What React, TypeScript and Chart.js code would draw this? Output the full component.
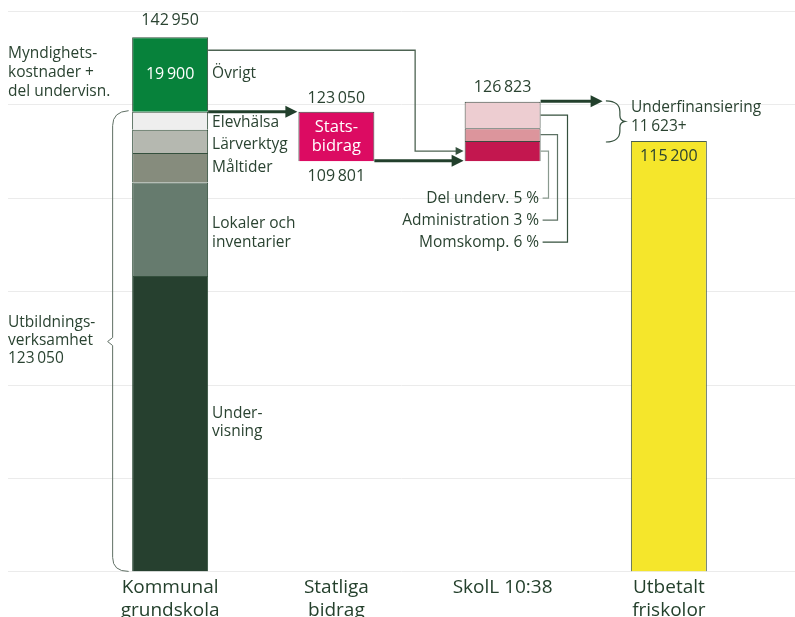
import React, { useEffect, useRef } from 'react';
import { Chart, registerables } from 'chart.js';

Chart.register(...registerables);

// ---------- data ----------
const categories: (string | string[])[] = [
  ['Kommunal', 'grundskola'],
  ['Statliga', 'bidrag'],
  'SkolL 10:38',
  ['Utbetalt', 'friskolor'],
];

const kommunalSegments = ['Undervisning', 'Lokaler och inventarier', 'Måltider', 'Lärverktyg', 'Elevhälsa', 'Övrigt'];
const kommunalValues = [79100, 25000, 7900, 6200, 4850, 19900];
const kommunalColors = ['#26402f', '#667b6e', '#868c7d', '#b5b8b0', '#eeeeee', '#07823b'];

const statsbidragRange = [109801, 123050];

const skolLSegments = ['Del underv.', 'Administration', 'Momskomp.'];
const skolLPercents = ['5 %', '3 %', '6 %'];
const skolLValues = [5400, 3400, 7100];
const skolLColors = ['#c3174f', '#dc959c', '#edcdd1'];
const skolLTotal = 126823;

const utbetaltValue = 115200;

const yTicks = [0, 25000, 50000, 75000, 100000, 125000, 150000];

// ---------- helpers ----------
const FONT = '"Open Sans", Lato, sans-serif';
const TEXT = '#2a4331';
const BODY = 15.5;
const fmt = (n: number) => String(n).replace(/\B(?=(\d{3})+(?!\d))/g, '\u2009');

function buildDatasets() {
  const ds: any[] = [];
  let cum = 0;
  kommunalValues.forEach((v, i) => {
    ds.push({
      label: kommunalSegments[i],
      data: [[cum, cum + v], null, null, null],
      backgroundColor: kommunalColors[i],
      borderColor: '#34503d',
      borderWidth: 1,
    });
    cum += v;
  });
  ds.push({
    label: 'Statsbidrag',
    data: [null, statsbidragRange, null, null],
    backgroundColor: '#dc0b62',
    borderColor: '#3c4a40',
    borderWidth: 1,
  });
  let base = statsbidragRange[0];
  skolLValues.forEach((v, i) => {
    ds.push({
      label: skolLSegments[i],
      data: [null, null, [base, base + v], null],
      backgroundColor: skolLColors[i],
      borderColor: '#3c4a40',
      borderWidth: 1,
    });
    base += v;
  });
  ds.push({
    label: 'Utbetalt',
    data: [null, null, null, [0, utbetaltValue]],
    backgroundColor: '#f5e62b',
    borderColor: '#4a5e4d',
    borderWidth: 1,
  });
  return ds;
}

function text(ctx: CanvasRenderingContext2D, s: string, x: number, y: number, align: CanvasTextAlign = 'center', color = TEXT, size = BODY) {
  ctx.font = `${size}px ${FONT}`;
  ctx.fillStyle = color;
  ctx.textAlign = align;
  ctx.textBaseline = 'middle';
  ctx.fillText(s, x, y);
}

function arrow(ctx: CanvasRenderingContext2D, x1: number, y: number, x2: number, width: number, head: number, half: number, color: string) {
  ctx.strokeStyle = color;
  ctx.fillStyle = color;
  ctx.lineWidth = width;
  ctx.beginPath();
  ctx.moveTo(x1, y);
  ctx.lineTo(x2 - head + 1, y);
  ctx.stroke();
  ctx.beginPath();
  ctx.moveTo(x2, y);
  ctx.lineTo(x2 - head, y - half);
  ctx.lineTo(x2 - head, y + half);
  ctx.closePath();
  ctx.fill();
}

const annotations = {
  id: 'annotations',
  beforeDatasetsDraw(chart: any) {
    const { ctx } = chart;
    const Y = chart.scales.y;
    ctx.save();
    ctx.strokeStyle = '#ebebeb';
    ctx.lineWidth = 1;
    yTicks.forEach((t) => {
      const py = Math.round(Y.getPixelForValue(t)) + 0.5;
      ctx.beginPath();
      ctx.moveTo(8, py);
      ctx.lineTo(chart.width, py);
      ctx.stroke();
    });
    ctx.restore();
  },
  afterDatasetsDraw(chart: any) {
    const { ctx } = chart;
    const X = chart.scales.x;
    const Y = chart.scales.y;
    const bw = chart.getDatasetMeta(0).data[0].width;
    const cx = [0, 1, 2, 3].map((i) => X.getPixelForValue(i));
    const L = (i: number) => cx[i] - bw / 2;
    const R = (i: number) => cx[i] + bw / 2;
    ctx.save();

    // ---- Kommunal ----
    const cums: number[] = [];
    let c = 0;
    kommunalValues.forEach((v) => { cums.push(c); c += v; });
    const kTotal = c;
    const utbild = kTotal - kommunalValues[5];
    text(ctx, fmt(kTotal), cx[0], Y.getPixelForValue(kTotal) - 17, 'center', TEXT, 16);
    const ovMid = Y.getPixelForValue(cums[5] + kommunalValues[5] / 2);
    text(ctx, fmt(kommunalValues[5]), cx[0], ovMid, 'center', '#ffffff', 16);

    const segLabels: string[][] = [['Under-', 'visning'], ['Lokaler och', 'inventarier'], ['Måltider'], ['Lärverktyg'], ['Elevhälsa'], ['Övrigt']];
    const segOffsets = [-1, 4, -0.5, 3, 2, -0.5];
    segLabels.forEach((lines, i) => {
      const mid = Y.getPixelForValue(cums[i] + kommunalValues[i] / 2) + segOffsets[i];
      lines.forEach((ln, k) => {
        text(ctx, ln, R(0) + 4, mid + (k - (lines.length - 1) / 2) * 18.5, 'left');
      });
    });

    // left labels
    ['Myndighets-', 'kostnader +', 'del undervisn.'].forEach((ln, k) => {
      text(ctx, ln, 8, ovMid - 2 + (k - 1) * 18.7, 'left');
    });
    const bMid = Y.getPixelForValue(utbild / 2);
    ['Utbildnings-', 'verksamhet', fmt(utbild)].forEach((ln, k) => {
      text(ctx, ln, 8, bMid - 1 + (k - 1) * 18, 'left');
    });

    // left brace
    {
      const bx = L(0) - 19.5;
      const top = Y.getPixelForValue(utbild);
      const bot = Y.getPixelForValue(0);
      ctx.strokeStyle = '#5f6f64';
      ctx.lineWidth = 1;
      ctx.beginPath();
      ctx.moveTo(bx + 16, top - 1);
      ctx.quadraticCurveTo(bx, top, bx, top + 14);
      ctx.lineTo(bx, bMid - 4);
      ctx.lineTo(bx - 5, bMid);
      ctx.lineTo(bx, bMid + 4);
      ctx.lineTo(bx, bot - 14);
      ctx.quadraticCurveTo(bx, bot, bx + 16, bot);
      ctx.stroke();
    }

    // thick arrow Kommunal -> Statsbidrag
    arrow(ctx, R(0), Y.getPixelForValue(utbild), L(1) - 1, 3, 12, 6, '#22402c');

    // thin path from Övrigt to SkolL
    {
      const y1 = Y.getPixelForValue(139500);
      const y2 = Y.getPixelForValue(statsbidragRange[0] + skolLValues[0] / 2);
      const vx = L(2) - 49.5;
      ctx.strokeStyle = '#4d6352';
      ctx.lineWidth = 1.3;
      ctx.beginPath();
      ctx.moveTo(R(0), y1);
      ctx.lineTo(vx, y1);
      ctx.lineTo(vx, y2);
      ctx.lineTo(L(2) - 6, y2);
      ctx.stroke();
      ctx.fillStyle = '#34503d';
      ctx.beginPath();
      ctx.moveTo(L(2) - 1, y2);
      ctx.lineTo(L(2) - 9, y2 - 4);
      ctx.lineTo(L(2) - 9, y2 + 4);
      ctx.closePath();
      ctx.fill();
    }

    // ---- Statsbidrag ----
    const sTopY = Y.getPixelForValue(statsbidragRange[1]);
    const sBotY = Y.getPixelForValue(statsbidragRange[0]);
    text(ctx, fmt(statsbidragRange[1]), cx[1], sTopY - 13, 'center', TEXT, 16);
    text(ctx, fmt(statsbidragRange[0]), cx[1], sBotY + 15, 'center', TEXT, 16);
    const sMid = (sTopY + sBotY) / 2;
    text(ctx, 'Stats-', cx[1], sMid - 9.5, 'center', '#ffffff', 16.5);
    text(ctx, 'bidrag', cx[1], sMid + 9.5, 'center', '#ffffff', 16.5);
    arrow(ctx, R(1), sBotY - 0.5, L(2) - 1, 3, 12, 6, '#22402c');

    // ---- SkolL ----
    let base = statsbidragRange[0];
    const mids: number[] = [];
    skolLValues.forEach((v) => { mids.push(Y.getPixelForValue(base + v / 2)); base += v; });
    const skTopY = Y.getPixelForValue(base);
    text(ctx, fmt(skolLTotal), cx[2], skTopY - 14, 'center', TEXT, 16);
    const connColors = ['#8a9a8f', '#5d7264', '#34503d'];
    const vOff = [7.5, 16.5, 26];
    skolLSegments.forEach((name, j) => {
      const ly = sBotY + 37 + j * 22;
      const vx = Math.round(R(2) + vOff[j]) + 0.5;
      ctx.strokeStyle = connColors[j];
      ctx.lineWidth = 1.2;
      ctx.beginPath();
      ctx.moveTo(R(2), mids[j]);
      ctx.lineTo(vx, mids[j]);
      ctx.lineTo(vx, ly);
      ctx.lineTo(R(2) + 2, ly);
      ctx.stroke();
      text(ctx, `${name} ${skolLPercents[j]}`, R(2) - 1.5, ly, 'right');
    });
    arrow(ctx, R(2), skTopY - 0.5, R(2) + 62, 3, 12, 6, '#22402c');

    // ---- Utbetalt ----
    const uTopY = Y.getPixelForValue(utbetaltValue);
    text(ctx, fmt(utbetaltValue), cx[3], uTopY + 15, 'center', TEXT, 16);
    {
      const x0 = L(3) - 25;
      const mid = (skTopY + uTopY) / 2;
      ctx.strokeStyle = '#34503d';
      ctx.lineWidth = 1.2;
      ctx.beginPath();
      ctx.moveTo(x0, skTopY - 1);
      ctx.bezierCurveTo(x0 + 10, skTopY - 1, x0 + 14, skTopY + 4, x0 + 14, skTopY + 10);
      ctx.lineTo(x0 + 14, mid - 6);
      ctx.quadraticCurveTo(x0 + 14, mid - 1, x0 + 19, mid);
      ctx.quadraticCurveTo(x0 + 14, mid + 1, x0 + 14, mid + 6);
      ctx.lineTo(x0 + 14, uTopY - 10);
      ctx.bezierCurveTo(x0 + 14, uTopY - 4, x0 + 10, uTopY + 1, x0, uTopY + 1);
      ctx.stroke();
      text(ctx, 'Underfinansiering', L(3), mid - 13.5, 'left');
      text(ctx, fmt(skolLTotal - utbetaltValue) + '+', L(3), mid + 5.5, 'left');
    }

    ctx.restore();
  },
};

export default function App() {
  const ref = useRef<HTMLCanvasElement>(null);
  useEffect(() => {
    if (!ref.current) return;
    const chart = new Chart(ref.current, {
      type: 'bar',
      data: {
        labels: categories as any,
        datasets: buildDatasets(),
      },
      options: {
        responsive: false,
        animation: false,
        layout: { padding: { left: 87, right: 43, top: 11, bottom: 0 } },
        datasets: { bar: { barPercentage: 1, categoryPercentage: 0.457 } } as any,
        plugins: { legend: { display: false }, tooltip: { enabled: false } },
        scales: {
          x: {
            stacked: true,
            grid: { display: false, drawTicks: false },
            border: { display: false },
            ticks: {
              color: '#24402c',
              font: { family: FONT, size: 19 },
              padding: 5,
              maxRotation: 0,
              autoSkip: false,
            },
          },
          y: { stacked: false, display: false, min: 0, max: 150000 },
        },
      },
      plugins: [annotations],
    });
    return () => chart.destroy();
  }, []);
  return (
    <div style={{ position: 'fixed', left: 0, top: 0, width: 795, height: 617, overflow: 'hidden', background: '#fff' }}>
      <canvas ref={ref} width={795} height={627} style={{ display: 'block', width: 795, height: 627 }} />
    </div>
  );
}
